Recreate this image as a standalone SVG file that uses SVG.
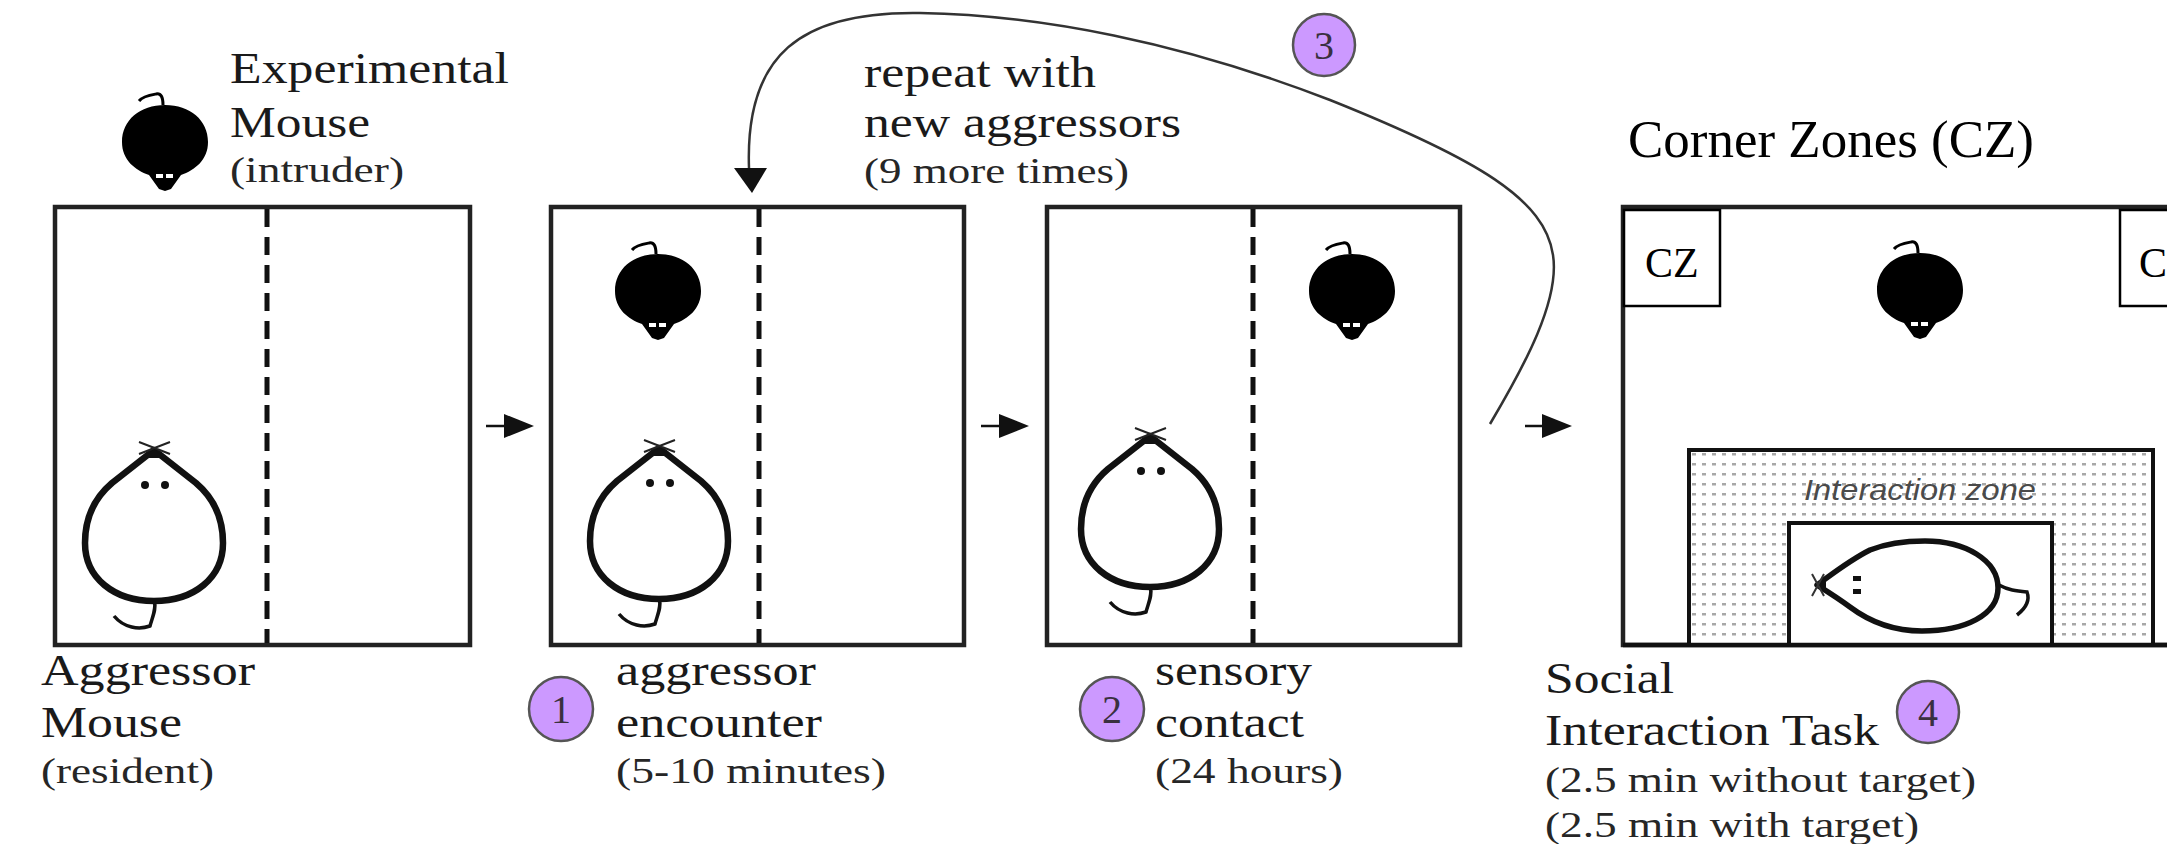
<svg xmlns="http://www.w3.org/2000/svg" width="2167" height="844" viewBox="0 0 2167 844">
  <style>
    .cage { fill: #ffffff; stroke: #222222; stroke-width: 4.5; }
    .divider { stroke: #111111; stroke-width: 5; stroke-dasharray: 18 10; }
    .lbl { font-family: "Liberation Serif", "Times New Roman", serif; font-size: 44px; fill: #1a1a1a; }
    .sub { font-family: "Liberation Serif", "Times New Roman", serif; font-size: 36px; fill: #262626; }
    .title { font-family: "Liberation Serif", "Times New Roman", serif; font-size: 53px; fill: #000000; }
    .cz { fill: #ffffff; stroke: #000000; stroke-width: 2.5; }
    .cztext { font-family: "Liberation Serif", "Times New Roman", serif; font-size: 42px; fill: #000000; }
    .badge { fill: #cc99ff; stroke: #555555; stroke-width: 2.5; }
    .badgenum { font-family: "Liberation Serif", "Times New Roman", serif; font-size: 40px; fill: #3a3040; text-anchor: middle; }
    .flow { stroke: #111111; stroke-width: 2.5; fill: none; }
    .loop { stroke: #333333; stroke-width: 2.5; fill: none; }
    .zone { fill: url(#dots); stroke: #111111; stroke-width: 4; }
    .zonetext { font-family: "Liberation Sans", Arial, sans-serif; font-style: italic; font-size: 29px; fill: #4a4a4a; }
  </style>
  <defs>
    <marker id="head" markerUnits="userSpaceOnUse" markerWidth="30" markerHeight="26" viewBox="0 0 30 26" refX="0" refY="13" orient="auto">
      <path d="M0 1 L30 13 L0 25 Z" fill="#111111"/>
    </marker>
    <pattern id="dots" patternUnits="userSpaceOnUse" width="10" height="10" x="1689" y="450">
      <rect width="10" height="10" fill="#ffffff"/>
      <rect x="3" y="3" width="4" height="2.5" fill="#a8a8a8"/>
    </pattern>
    <!-- intruder seen from above, head pointing down -->
    <g id="blackMouse">
      <path d="M0 -40 C25 -40 43 -25 43 -3 C43 15 30 25 16 30 L6 44 L0 46 L-6 44 L-16 30 C-30 25 -43 15 -43 -3 C-43 -25 -25 -40 0 -40 Z" fill="#000000"/>
      <rect x="-9" y="29" width="7" height="4" fill="#ffffff"/>
      <rect x="1" y="29" width="7" height="4" fill="#ffffff"/>
      <path d="M-2 -40 C-2 -48 -4 -52 -9 -51 C-15 -50 -22 -49 -26 -44" fill="none" stroke="#000000" stroke-width="3"/>
    </g>
    <!-- resident seen from above, head pointing up -->
    <g id="whiteMouse">
      <path d="M0 -88 L42 -55 C62 -38 69 -18 69 5 C69 40 40 63 0 63 C-40 63 -69 40 -69 5 C-69 -18 -62 -38 -42 -55 Z" fill="#ffffff" stroke="#111111" stroke-width="6.5" stroke-linejoin="round"/>
      <path d="M0 -90 L-9 -80 L9 -80 Z" fill="#111111"/>
      <path d="M-15 -96 L16 -84 M16 -96 L-15 -84" stroke="#222222" stroke-width="2"/>
      <circle cx="-9" cy="-53" r="4" fill="#111111"/>
      <circle cx="11" cy="-53" r="4" fill="#111111"/>
      <path d="M0 63 C3 70 -2 80 -4 88 C-15 92 -30 90 -40 78" fill="none" stroke="#111111" stroke-width="3.5"/>
    </g>
  </defs>

  <rect width="2167" height="844" fill="#ffffff"/>

  <!-- stage 0: resident and intruder before the encounter -->
  <g id="cage-start">
    <rect class="cage" x="55" y="207" width="415" height="438"/>
    <line class="divider" x1="267" y1="209" x2="267" y2="643"/>
    <use href="#whiteMouse" x="154" y="538"/>
    <use href="#blackMouse" x="165" y="145"/>
    <text class="lbl" x="230" y="83" textLength="279" lengthAdjust="spacingAndGlyphs">Experimental</text>
    <text class="lbl" x="230" y="137" textLength="140" lengthAdjust="spacingAndGlyphs">Mouse</text>
    <text class="sub" x="230" y="182" textLength="174" lengthAdjust="spacingAndGlyphs">(intruder)</text>
    <text class="lbl" x="41" y="685" textLength="214" lengthAdjust="spacingAndGlyphs">Aggressor</text>
    <text class="lbl" x="41" y="737" textLength="141" lengthAdjust="spacingAndGlyphs">Mouse</text>
    <text class="sub" x="41" y="783" textLength="173" lengthAdjust="spacingAndGlyphs">(resident)</text>
  </g>

  <!-- stage 1: aggressor encounter -->
  <g id="cage-encounter">
    <rect class="cage" x="551" y="207" width="413" height="438"/>
    <line class="divider" x1="759" y1="209" x2="759" y2="643"/>
    <use href="#whiteMouse" x="659" y="536"/>
    <use href="#blackMouse" x="658" y="294"/>
    <circle class="badge" cx="561" cy="709" r="32"/>
    <text class="badgenum" x="561" y="723">1</text>
    <text class="lbl" x="616" y="685" textLength="200" lengthAdjust="spacingAndGlyphs">aggressor</text>
    <text class="lbl" x="616" y="737" textLength="206" lengthAdjust="spacingAndGlyphs">encounter</text>
    <text class="sub" x="616" y="783" textLength="270" lengthAdjust="spacingAndGlyphs">(5-10 minutes)</text>
  </g>

  <!-- stage 2: sensory contact across the divider -->
  <g id="cage-sensory">
    <rect class="cage" x="1047" y="207" width="413" height="438"/>
    <line class="divider" x1="1253" y1="209" x2="1253" y2="643"/>
    <use href="#whiteMouse" x="1150" y="524"/>
    <use href="#blackMouse" x="1352" y="294"/>
    <circle class="badge" cx="1112" cy="709" r="32"/>
    <text class="badgenum" x="1112" y="723">2</text>
    <text class="lbl" x="1155" y="685" textLength="157" lengthAdjust="spacingAndGlyphs">sensory</text>
    <text class="lbl" x="1155" y="737" textLength="149" lengthAdjust="spacingAndGlyphs">contact</text>
    <text class="sub" x="1155" y="783" textLength="188" lengthAdjust="spacingAndGlyphs">(24 hours)</text>
  </g>

  <!-- repeat note and badge 3 -->
  <g id="repeat-note">
    <text class="lbl" x="864" y="87" textLength="232" lengthAdjust="spacingAndGlyphs">repeat with</text>
    <text class="lbl" x="864" y="137" textLength="317" lengthAdjust="spacingAndGlyphs">new aggressors</text>
    <text class="sub" x="864" y="183" textLength="265" lengthAdjust="spacingAndGlyphs">(9 more times)</text>
    <circle class="badge" cx="1324" cy="45" r="31"/>
    <text class="badgenum" x="1324" y="59">3</text>
  </g>

  <!-- stage 4: social interaction arena -->
  <g id="arena-social">
    <text class="title" x="1628" y="157" textLength="406" lengthAdjust="spacingAndGlyphs">Corner Zones (CZ)</text>
    <rect class="cage" x="1623" y="207" width="600" height="438"/>
    <rect class="cz" x="1624" y="210" width="96" height="96"/>
    <text class="cztext" x="1645" y="277">CZ</text>
    <rect class="cz" x="2120" y="210" width="96" height="96"/>
    <text class="cztext" x="2139" y="277">C</text>
    <use href="#blackMouse" x="1920" y="293"/>
    <rect class="zone" x="1689" y="450" width="464" height="195"/>
    <text class="zonetext" x="1804" y="500" textLength="232" lengthAdjust="spacingAndGlyphs">Interaction zone</text>
    <rect x="1789" y="523" width="263" height="122" fill="#ffffff" stroke="#111111" stroke-width="4"/>
    <g id="target-mouse">
      <path d="M1817 585 C1835 572 1850 560 1870 550 C1890 542 1910 541 1925 541 C1965 541 1998 560 1998 588 C1998 615 1965 631 1922 631 C1895 631 1870 622 1850 607 C1838 598 1825 590 1817 585 Z" fill="#ffffff" stroke="#111111" stroke-width="5.5" stroke-linejoin="round"/>
      <path d="M1815 585 L1826 578 L1826 592 Z" fill="#111111"/>
      <path d="M1812 574 L1824 596 M1812 596 L1824 574" stroke="#333333" stroke-width="2"/>
      <rect x="1853" y="576" width="8" height="5" fill="#111111"/>
      <rect x="1853" y="589" width="8" height="5" fill="#111111"/>
      <path d="M1999 585 C2008 590 2016 591 2027 592 C2030 600 2026 608 2017 615" fill="none" stroke="#111111" stroke-width="3.5"/>
    </g>
    <line x1="1623" y1="645" x2="2167" y2="645" stroke="#111111" stroke-width="4.5"/>
    <text class="lbl" x="1545" y="693" textLength="129" lengthAdjust="spacingAndGlyphs">Social</text>
    <text class="lbl" x="1545" y="745" textLength="334" lengthAdjust="spacingAndGlyphs">Interaction Task</text>
    <circle class="badge" cx="1928" cy="712" r="31"/>
    <text class="badgenum" x="1928" y="726">4</text>
    <text class="sub" x="1545" y="792" textLength="431" lengthAdjust="spacingAndGlyphs">(2.5 min without target)</text>
    <text class="sub" x="1545" y="837" textLength="374" lengthAdjust="spacingAndGlyphs">(2.5 min with target)</text>
  </g>

  <!-- connectors -->
  <g id="connectors">
    <line class="flow" x1="486" y1="426" x2="504" y2="426" marker-end="url(#head)"/>
    <line class="flow" x1="981" y1="426" x2="999" y2="426" marker-end="url(#head)"/>
    <line class="flow" x1="1525" y1="426" x2="1542" y2="426" marker-end="url(#head)"/>
    <path class="loop" d="M1490 424 C1525 365 1560 300 1553 255 C1545 200 1480 160 1330 100 C1180 42 1040 15 920 13 C800 11 745 55 749 168"/>
    <path d="M734 168 L767 168 L752 193 Z" fill="#111111"/>
  </g>
</svg>
